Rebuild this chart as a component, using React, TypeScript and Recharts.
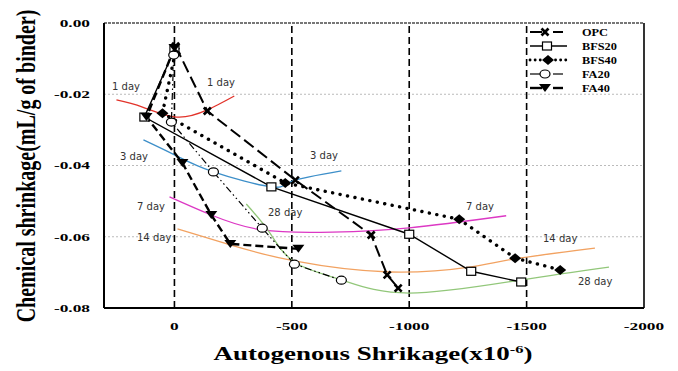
import React from 'react';
import { ComposedChart, Line, XAxis, YAxis, ReferenceLine } from 'recharts';

// measured series: first point is the early-age peak, then 1, 3, 7, 14, 28 day
const opc = [
  { x: -5, y: -0.0065 }, { x: -140, y: -0.0247 }, { x: -515, y: -0.0441 },
  { x: -838, y: -0.0595 }, { x: -906, y: -0.0707 }, { x: -953, y: -0.0744 },
];
const bfs20 = [
  { x: 0, y: -0.0075 }, { x: 128, y: -0.0264 }, { x: -413, y: -0.046 },
  { x: -1000, y: -0.0593 }, { x: -1264, y: -0.0697 }, { x: -1477, y: -0.0727 },
];
const bfs40 = [
  { x: -3, y: -0.0085 }, { x: 51, y: -0.0253 }, { x: -472, y: -0.0449 },
  { x: -1213, y: -0.0551 }, { x: -1451, y: -0.066 }, { x: -1643, y: -0.0693 },
];
const fa20 = [
  { x: 3, y: -0.009 }, { x: 13, y: -0.0278 }, { x: -166, y: -0.0418 },
  { x: -374, y: -0.0576 }, { x: -511, y: -0.0677 }, { x: -711, y: -0.0722 },
];
const fa40 = [
  { x: 0, y: -0.007 }, { x: 119, y: -0.0264 }, { x: -34, y: -0.0393 },
  { x: -157, y: -0.0539 }, { x: -238, y: -0.062 }, { x: -528, y: -0.0634 },
];

// fitted age curves
const day1 = [
  { x: 247, y: -0.0216 }, { x: 136, y: -0.0236 }, { x: -8, y: -0.0264 },
  { x: -140, y: -0.0244 }, { x: -255, y: -0.0205 },
];
const day3 = [
  { x: 132, y: -0.0328 }, { x: 0, y: -0.037 }, { x: -166, y: -0.0418 },
  { x: -413, y: -0.046 }, { x: -502, y: -0.0444 }, { x: -711, y: -0.0415 },
];
const day7 = [
  { x: 21, y: -0.0488 }, { x: -157, y: -0.0539 }, { x: -374, y: -0.0581 },
  { x: -672, y: -0.0587 }, { x: -1000, y: -0.0575 }, { x: -1413, y: -0.0541 },
];
const day14 = [
  { x: -13, y: -0.0578 }, { x: -238, y: -0.0623 }, { x: -511, y: -0.0668 },
  { x: -915, y: -0.0699 }, { x: -1255, y: -0.0685 }, { x: -1451, y: -0.0662 },
  { x: -1791, y: -0.0632 },
];
const day28 = [
  { x: -306, y: -0.0508 }, { x: -404, y: -0.0587 }, { x: -511, y: -0.0671 },
  { x: -711, y: -0.0721 }, { x: -1000, y: -0.0758 }, { x: -1477, y: -0.0721 },
  { x: -1851, y: -0.0685 },
];

const xTicks = [0, -500, -1000, -1500, -2000];
const yTicks = [0, -0.02, -0.04, -0.06, -0.08];
const gridY = [-0.02, -0.04, -0.06];
const dashX = [0, -500, -1000, -1500];

const dayLabels = [
  { t: '1 day', x: 112, y: 90 }, { t: '1 day', x: 207, y: 86 },
  { t: '3 day', x: 120, y: 160 }, { t: '3 day', x: 310, y: 159 },
  { t: '7 day', x: 137, y: 210 }, { t: '28 day', x: 268, y: 216 },
  { t: '14 day', x: 137, y: 241 }, { t: '7 day', x: 466, y: 210 },
  { t: '14 day', x: 543, y: 242 }, { t: '28 day', x: 578, y: 285 },
];

const SERIF = '"Liberation Serif", "Times New Roman", serif';
const SANS = '"DejaVu Sans", Verdana, sans-serif';

type Kind = 'x' | 'square' | 'diamond' | 'circle' | 'tri';

function Marker({ kind, cx, cy }: { kind: Kind; cx: number; cy: number }) {
  if (cx == null || cy == null) return null;
  switch (kind) {
    case 'x':
      return (
        <g stroke="#000" strokeWidth={2.6}>
          <line x1={cx - 3.5} y1={cy - 3.5} x2={cx + 3.5} y2={cy + 3.5} />
          <line x1={cx - 3.5} y1={cy + 3.5} x2={cx + 3.5} y2={cy - 3.5} />
        </g>
      );
    case 'square':
      return <rect x={cx - 4.5} y={cy - 4} width={9} height={8} fill="#fff" stroke="#000" strokeWidth={1.2} />;
    case 'diamond':
      return <polygon points={`${cx},${cy - 5} ${cx + 6},${cy} ${cx},${cy + 5} ${cx - 6},${cy}`} fill="#000" />;
    case 'circle':
      return <ellipse cx={cx} cy={cy} rx={5} ry={4} fill="#fff" stroke="#000" strokeWidth={1.2} />;
    case 'tri':
      return <polygon points={`${cx - 6},${cy - 4} ${cx + 6},${cy - 4} ${cx},${cy + 4}`} fill="#000" />;
  }
  return null;
}

const dotFor = (kind: Kind) => (p: any) => (
  <Marker key={`${kind}-${p.index}`} kind={kind} cx={p.cx} cy={p.cy} />
);

const series: { name: string; data: { x: number; y: number }[]; kind: Kind; dash?: string; width: number }[] = [
  { name: 'OPC', data: opc, kind: 'x', dash: '12 5', width: 2 },
  { name: 'BFS20', data: bfs20, kind: 'square', width: 1.4 },
  { name: 'BFS40', data: bfs40, kind: 'diamond', dash: '0.1 7.5', width: 3.4 },
  { name: 'FA20', data: fa20, kind: 'circle', dash: '7 3 1.5 3 1.5 3', width: 1.2 },
  { name: 'FA40', data: fa40, kind: 'tri', dash: '8 4', width: 2.4 },
];

const curves = [
  { data: day1, color: '#e2332a' },
  { data: day3, color: '#3d8fc9' },
  { data: day7, color: '#dc38c4' },
  { data: day14, color: '#f2a261' },
  { data: day28, color: '#92c77a' },
];

const YTick = ({ x, y, payload }: any) => (
  <text transform={`translate(${x},${y}) scale(1.65,1)`} textAnchor="end" dy="0.36em"
    fontFamily={SERIF} fontWeight="bold" fontSize={10.5} fill="#000">
    {Number(payload.value).toFixed(2)}
  </text>
);

const XTick = ({ x, y, payload }: any) => (
  <text transform={`translate(${x},${y}) scale(1.65,1)`} textAnchor="middle" dy="0.71em"
    fontFamily={SERIF} fontWeight="bold" fontSize={10.5} fill="#000">
    {payload.value}
  </text>
);

function LegendSample({ kind, y }: { kind: Kind; y: number }) {
  const s = series.find((d) => d.kind === kind)!;
  if (kind === 'square') {
    return (
      <g>
        <line x1={530} y1={y} x2={567} y2={y} stroke="#000" strokeWidth={1.4} />
        <Marker kind={kind} cx={547} cy={y} />
      </g>
    );
  }
  if (kind === 'diamond') {
    return (
      <g>
        <line x1={530} y1={y} x2={567} y2={y} stroke="#000" strokeWidth={2.8} strokeDasharray="0.1 5" strokeLinecap="round" />
        <Marker kind={kind} cx={548} cy={y} />
      </g>
    );
  }
  return (
    <g>
      <line x1={530} y1={y} x2={542} y2={y} stroke="#000" strokeWidth={s.width} />
      <line x1={553} y1={y} x2={563} y2={y} stroke="#000" strokeWidth={s.width} />
      {kind === 'circle' && <line x1={548} y1={y} x2={550} y2={y} stroke="#000" strokeWidth={1} />}
      <Marker kind={kind} cx={545} cy={y} />
    </g>
  );
}

export default function App() {
  return (
    <div style={{ position: 'absolute', left: 0, top: 0, width: 678, height: 371, background: '#fff' }}>
      <ComposedChart width={678} height={371} margin={{ top: 23, right: 34, bottom: 23, left: 40 }}>
        <XAxis type="number" dataKey="x" domain={[-2000, 300]} reversed ticks={xTicks} allowDataOverflow
          tickLine={false} tickSize={0} tickMargin={15} height={40} interval={0}
          axisLine={{ stroke: '#000', strokeWidth: 2 }} tick={<XTick />} />
        <YAxis type="number" dataKey="y" domain={[-0.08, 0]} ticks={yTicks} allowDataOverflow
          tickLine={false} tickSize={0} tickMargin={14} width={64} interval={0}
          axisLine={{ stroke: '#000', strokeWidth: 2 }} tick={<YTick />} />
        {gridY.map((v) => (
          <ReferenceLine key={`g${v}`} y={v} stroke="#bbb" strokeWidth={1} strokeDasharray="2 2" />
        ))}
        <ReferenceLine y={0} stroke="#777" strokeWidth={2.2} strokeDasharray="3 1" />
        <ReferenceLine x={-2000} stroke="#000" strokeWidth={1.6} />
        {dashX.map((v) => (
          <ReferenceLine key={`d${v}`} x={v} stroke="#000" strokeWidth={1.6} strokeDasharray="7 4" />
        ))}
        {curves.map((c, i) => (
          <Line key={`c${i}`} data={c.data} dataKey="y" type="natural" stroke={c.color} strokeWidth={1.3}
            dot={false} activeDot={false} isAnimationActive={false} />
        ))}
        {series.map((s) => (
          <Line key={s.name} data={s.data} dataKey="y" name={s.name} type="linear" stroke="#000"
            strokeWidth={s.width} strokeDasharray={s.dash}
            strokeLinecap={s.kind === 'diamond' ? 'round' : 'butt'}
            dot={dotFor(s.kind)} activeDot={false} isAnimationActive={false} />
        ))}
      </ComposedChart>
      <svg width={678} height={371} style={{ position: 'absolute', left: 0, top: 0, pointerEvents: 'none' }}>
        {dayLabels.map((d, i) => (
          <text key={i} x={d.x} y={d.y} fontFamily={SANS} fontSize={10} fill="#333">{d.t}</text>
        ))}
        {series.map((s, i) => (
          <g key={s.name}>
            <LegendSample kind={s.kind} y={32 + i * 14} />
            <text transform={`translate(582,${32 + i * 14}) scale(1.12,1)`} dy="0.35em"
              fontFamily={SERIF} fontWeight="bold" fontSize={11} fill="#000">{s.name}</text>
          </g>
        ))}
        <text transform="translate(25,166) scale(1.4,1) rotate(-90)" textAnchor="middle" dy="0.35em"
          fontFamily={SERIF} fontWeight="bold" fontSize={20} fill="#000">
          Chemical shrinkage(mL/g of binder)
        </text>
        <text transform="translate(373,360) scale(1.5,1)" textAnchor="middle"
          fontFamily={SERIF} fontWeight="bold" fontSize={18} fill="#000">
          Autogenous Shrikage(x10<tspan dy={-7} fontSize={11}>-6</tspan><tspan dy={7}>)</tspan>
        </text>
      </svg>
    </div>
  );
}
